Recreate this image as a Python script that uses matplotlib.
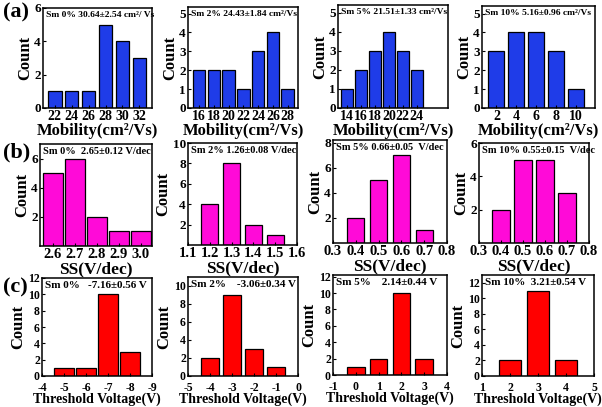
import matplotlib.pyplot as plt

plt.rcParams['font.family'] = 'Liberation Serif'
plt.rcParams['font.weight'] = 'bold'

# (a) mobility histograms
mob0_x = [22, 24, 26, 28, 30, 32]
mob0_n = [1, 1, 1, 5, 4, 3]
mob2_x = [16, 18, 20, 22, 24, 26, 28]
mob2_n = [2, 2, 2, 1, 3, 4, 1]
mob5_x = [14, 16, 18, 20, 22, 24]
mob5_n = [1, 2, 3, 4, 3, 2]
mob10_x = [2, 4, 6, 8, 10]
mob10_n = [3, 4, 4, 3, 1]

# (b) subthreshold swing
ss0_x = [2.6, 2.7, 2.8, 2.9, 3.0]
ss0_n = [5, 6, 2, 1, 1]
ss2_x = [1.2, 1.3, 1.4, 1.5]
ss2_n = [4, 8, 2, 1]
ss5_x = [0.4, 0.5, 0.6, 0.7]
ss5_n = [2, 5, 7, 1]
ss10_x = [0.4, 0.5, 0.6, 0.7]
ss10_n = [2, 5, 5, 3]

# (c) threshold voltage
vt0_x = [-5, -6, -7, -8]
vt0_n = [1, 1, 10, 3]
vt2_x = [-4, -3, -2, -1]
vt2_n = [2, 9, 3, 1]
vt5_x = [0, 1, 2, 3]
vt5_n = [1, 2, 10, 2]
vt10_x = [2, 3, 4]
vt10_n = [2, 11, 2]

labels_a = ['Sm 0% 30.64±2.54 cm²/ Vs', 'Sm 2% 24.43±1.84 cm²/Vs',
            'Sm 5% 21.51±1.33 cm²/Vs', 'Sm 10% 5.16±0.96 cm²/Vs']
labels_b = ['Sm 0%  2.65±0.12 V/dec', 'Sm 2% 1.26±0.08 V/dec',
            'Sm 5% 0.66±0.05  V/dec', 'Sm 10% 0.55±0.15  V/dec']
labels_c = ['Sm 0%   -7.16±0.56 V', 'Sm 2%    -3.06±0.34 V',
            'Sm 5%    2.14±0.44 V', 'Sm 10%  3.21±0.54 V']

BLUE = '#1f3ce8'
MAGENTA = '#ff0ad8'
RED = '#ff0000'

W, H = 602, 407
fig = plt.figure(figsize=(W / 100, H / 100), dpi=100)


def add_ax(l, t, r, b):
    return fig.add_axes([l / W, 1 - b / H, (r - l) / W, (b - t) / H])


# pixel boxes (left, top, right, bottom)
boxes = [
    [(43, 8, 152, 108), (188, 7, 298, 108), (338, 5, 448, 108), (482, 6, 595, 108)],
    [(40, 144, 152, 246), (188, 143, 297, 245), (333, 140, 447, 243), (479, 143, 589, 243)],
    [(42, 278, 152, 376), (188, 277, 298, 376), (333, 275, 447, 375), (482, 275, 594, 376)],
]

panels = [
    # row a
    [(mob0_x, mob0_n, 1.6, (20.6, 33.5), (0, 6), [0, 2, 4, 6], None),
     (mob2_x, mob2_n, 1.7, (14.5, 29.4), (0, 5.35), [0, 1, 2, 3, 4, 5], None),
     (mob5_x, mob5_n, 1.7, (12.7, 28.5), (0, 5.4), [0, 1, 2, 3, 4, 5], None),
     (mob10_x, mob10_n, 1.6, (0.55, 11.9), (0, 5.4), [0, 1, 2, 3, 4, 5], None)],
    # row b
    [(ss0_x, ss0_n, 0.092, (2.542, 3.05), (0, 7), [2, 4, 6], None),
     (ss2_x, ss2_n, 0.078, (1.1, 1.6), (0, 10), [2, 4, 6, 8, 10],
      [1.1, 1.2, 1.3, 1.4, 1.5, 1.6]),
     (ss5_x, ss5_n, 0.076, (0.3, 0.8), (0, 8.2), [2, 4, 6, 8],
      [0.3, 0.4, 0.5, 0.6, 0.7, 0.8]),
     (ss10_x, ss10_n, 0.08, (0.3, 0.8), (0, 6), [2, 4, 6],
      [0.3, 0.4, 0.5, 0.6, 0.7, 0.8])],
    # row c
    [(vt0_x, vt0_n, 0.95, (-4, -9), (0, 12), [0, 2, 4, 6, 8, 10, 12],
      [-4, -5, -6, -7, -8, -9]),
     (vt2_x, vt2_n, 0.8, (-5, 0), (0, 11), [0, 2, 4, 6, 8, 10],
      [-5, -4, -3, -2, -1, 0]),
     (vt5_x, vt5_n, 0.78, (-1, 4), (0, 12.2), [0, 2, 4, 6, 8, 10, 12],
      [-1, 0, 1, 2, 3, 4]),
     (vt10_x, vt10_n, 0.78, (1, 5), (0, 13), [0, 2, 4, 6, 8, 10, 12],
      [1, 2, 3, 4, 5])],
]

colors = [BLUE, MAGENTA, RED]
xlabels = ['Mobility(cm²/Vs)', 'SS(V/dec)', 'Threshold Voltage(V)']
xlabel_sizes = [12, 12.5, 10]
xlabel_pads = [0, 0, -1]
xtick_sizes = [10, 10.5, 8.5]
xtick_pads = [1.5, 1.5, 4.5]
ytick_sizes = [9.5, 9.5, 8.5]
note_sizes = [6.8, 7.5, 8]
notes = [labels_a, labels_b, labels_c]

for r in range(3):
    for c in range(4):
        x, n, w, xl, yl, yt, xt = panels[r][c]
        ax = add_ax(*boxes[r][c])
        ax.bar(x, n, width=w, color=colors[r], edgecolor='black', linewidth=0.9)
        ax.set_xlim(*xl)
        ax.set_ylim(*yl)
        ax.set_yticks(yt)
        if xt is None:
            ax.set_xticks(x)
        else:
            ax.set_xticks(xt)
            ax.set_xticklabels([f'{v:g}' for v in xt])
        if r == 1 and c == 0:
            ax.set_xticklabels([f'{v:.1f}' for v in x])
        ax.tick_params(axis='x', labelsize=xtick_sizes[r], direction='in',
                       length=2.5, pad=xtick_pads[r])
        ax.tick_params(axis='y', labelsize=ytick_sizes[r], direction='in',
                       length=2.5, pad=1.5)
        for s in ax.spines.values():
            s.set_linewidth(1.1)
        ax.set_xlabel(xlabels[r], fontsize=xlabel_sizes[r], fontweight='bold',
                      labelpad=xlabel_pads[r])
        ax.set_ylabel('Count', fontsize=12, fontweight='bold', labelpad=1)
        ax.text(0.03, 0.97, notes[r][c], transform=ax.transAxes, ha='left',
                va='top', fontsize=note_sizes[r], fontweight='bold')

fig.text(3 / W, 1 - 12 / H, '(a)', fontsize=16, fontweight='bold', va='center')
fig.text(3 / W, 1 - 152 / H, '(b)', fontsize=16, fontweight='bold', va='center')
fig.text(3 / W, 1 - 287 / H, '(c)', fontsize=16, fontweight='bold', va='center')

fig.savefig('out.png', dpi=100)
